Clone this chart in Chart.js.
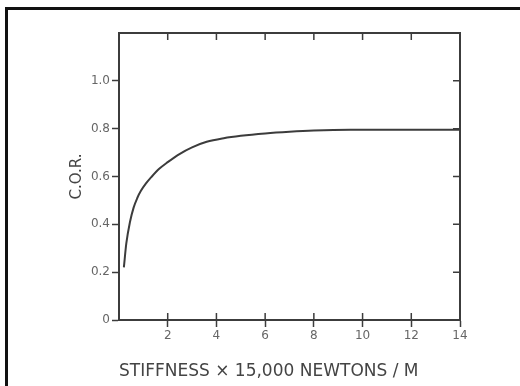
<!DOCTYPE html>
<html>
<head>
<meta charset="utf-8">
<script src="https://cdn.jsdelivr.net/npm/chart.js@4/dist/chart.umd.min.js"></script>
<style>
  html, body { margin: 0; padding: 0; background: #fff; overflow: hidden; }
  #wrap { position: relative; width: 520px; height: 386px; }
  #frame {
    position: absolute; left: 5px; top: 7px; width: 600px; height: 500px;
    border-left: 3px solid #111; border-top: 3px solid #111;
  }
  #chart { position: absolute; left: 0; top: 0; }
</style>
</head>
<body>
<div id="wrap">
  <div id="frame"></div>
  <canvas id="chart" width="520" height="386"></canvas>
</div>
<script>
// values
const stiffness = [0.2, 0.3, 0.45, 0.6, 0.75, 0.9, 1.1, 1.35, 1.65, 2.0, 2.5, 3.0, 3.6, 4.3, 5.0, 6.0, 7.0, 8.0, 9.5, 11.0, 14.0];
const cor = [0.22, 0.32, 0.41, 0.47, 0.51, 0.54, 0.57, 0.60, 0.632, 0.66, 0.695, 0.722, 0.745, 0.76, 0.77, 0.78, 0.787, 0.792, 0.795, 0.795, 0.795];

const xTicks = [2, 4, 6, 8, 10, 12, 14];
const yTicks = [0, 0.2, 0.4, 0.6, 0.8, 1.0];

const xTitle = 'STIFFNESS \u00d7 15,000 NEWTONS / M';
const yTitle = 'C.O.R.';

const ink = '#3c3c3c';
const textInk = '#666';

// top/right frame and the inward tick marks of the old plot
const frameTicks = {
  id: 'frameTicks',
  afterDatasetsDraw(chart) {
    const { ctx, chartArea: a, scales } = chart;
    ctx.save();
    ctx.strokeStyle = ink;
    ctx.lineWidth = 2;
    ctx.beginPath();
    ctx.moveTo(a.left, a.top);
    ctx.lineTo(a.right, a.top);
    ctx.lineTo(a.right, a.bottom);
    ctx.stroke();
    ctx.lineWidth = 1.5;
    ctx.beginPath();
    xTicks.slice(0, -1).forEach(v => {
      const x = scales.x.getPixelForValue(v);
      ctx.moveTo(x, a.top);
      ctx.lineTo(x, a.top + 7);
      ctx.moveTo(x, a.bottom);
      ctx.lineTo(x, a.bottom - 7);
    });
    yTicks.slice(1).forEach(v => {
      const y = scales.y.getPixelForValue(v);
      ctx.moveTo(a.right, y);
      ctx.lineTo(a.right - 7, y);
    });
    ctx.stroke();
    ctx.restore();
  }
};

new Chart(document.getElementById('chart'), {
  type: 'line',
  data: {
    datasets: [{
      data: stiffness.map((s, i) => ({ x: s, y: cor[i] })),
      borderColor: ink,
      borderWidth: 2,
      pointRadius: 0,
      fill: false,
      cubicInterpolationMode: 'monotone'
    }]
  },
  options: {
    responsive: false,
    animation: false,
    devicePixelRatio: 1,
    layout: { padding: { left: 66, right: 60, top: 33, bottom: 0 } },
    plugins: { legend: { display: false }, tooltip: { enabled: false } },
    scales: {
      x: {
        type: 'linear',
        min: 0,
        max: 14,
        afterFit: s => { s.height = 66; },
        afterBuildTicks: s => { s.ticks = [0].concat(xTicks).map(v => ({ value: v })); },
        border: { display: true, color: ink, width: 2 },
        grid: {
          drawOnChartArea: false,
          tickLength: 7,
          tickWidth: 1.5,
          tickColor: c => (c.tick && c.tick.value === 0) ? 'rgba(0,0,0,0)' : ink
        },
        ticks: {
          color: textInk,
          padding: 2,
          font: { family: 'DejaVu Sans', size: 12 },
          callback: v => v === 0 ? '' : String(v)
        },
        title: {
          display: true,
          text: xTitle,
          align: 'start',
          color: '#444',
          font: { family: 'DejaVu Sans', size: 17 },
          padding: { top: 0, bottom: 4 }
        }
      },
      y: {
        min: 0,
        max: 1.2,
        afterFit: s => { s.width = 53; },
        afterBuildTicks: s => { s.ticks = yTicks.concat([1.2]).map(v => ({ value: v })); },
        border: { display: true, color: ink, width: 2 },
        grid: {
          drawOnChartArea: false,
          tickLength: 7,
          tickWidth: 1.5,
          tickColor: c => (c.tick && c.tick.value > 1.1) ? 'rgba(0,0,0,0)' : ink
        },
        ticks: {
          color: textInk,
          padding: 2,
          font: { family: 'DejaVu Sans', size: 12 },
          callback: v => v > 1.1 ? '' : (v === 0 ? '0' : v.toFixed(1))
        },
        title: {
          display: true,
          text: yTitle,
          color: '#444',
          font: { family: 'DejaVu Sans', size: 15 },
          padding: { top: 2, bottom: 0 }
        }
      }
    }
  },
  plugins: [frameTicks]
});
</script>
</body>
</html>
